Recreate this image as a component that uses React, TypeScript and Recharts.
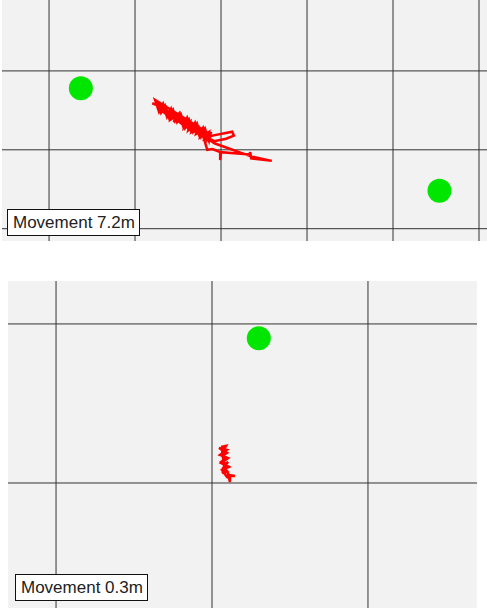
import { ScatterChart, Scatter, XAxis, YAxis, CartesianGrid, ReferenceLine } from "recharts";

// positions in metres, grid every 1m
const topTrack = [
  [1.2, 0.59], [1.27, 0.56], [1.24, 0.62], [1.31, 0.53], [1.29, 0.48], [1.36, 0.54],
  [1.38, 0.44], [1.34, 0.47], [1.43, 0.48], [1.41, 0.38], [1.48, 0.43], [1.45, 0.35],
  [1.52, 0.46], [1.55, 0.33], [1.5, 0.39], [1.59, 0.38], [1.57, 0.28], [1.64, 0.35],
  [1.62, 0.25], [1.69, 0.32], [1.66, 0.23], [1.73, 0.28], [1.71, 0.2], [1.79, 0.25],
  [1.76, 0.16], [1.85, 0.22], [1.81, 0.14], [1.9, 0.18], [2.13, 0.23], [2.15, 0.18],
  [2.06, 0.14], [1.92, 0.11], [1.83, 0.16], [1.78, 0.22], [1.84, 0.0], [1.9, 0.01],
  [1.99, -0.03], [1.99, -0.13], [2.0, -0.03], [2.33, -0.06], [2.34, -0.03], [2.35, -0.11],
  [2.59, -0.14], [2.34, -0.08], [1.93, 0.08], [1.84, 0.14], [1.58, 0.3], [1.41, 0.44],
  [1.33, 0.51], [1.47, 0.46], [1.64, 0.33], [1.76, 0.24], [1.87, 0.2],
  [1.233, 0.633], [1.279, 0.481], [1.326, 0.582], [1.372, 0.418], [1.419, 0.519],
  [1.465, 0.367], [1.512, 0.456], [1.558, 0.304], [1.605, 0.405], [1.651, 0.241],
  [1.698, 0.342], [1.744, 0.19], [1.791, 0.278], [1.837, 0.127], [1.884, 0.228],
  [1.86, 0.114], [1.814, 0.266], [1.767, 0.165], [1.721, 0.329], [1.674, 0.228],
  [1.628, 0.38], [1.581, 0.278], [1.535, 0.443], [1.488, 0.354], [1.442, 0.506],
  [1.395, 0.405], [1.349, 0.557], [1.302, 0.468], [1.256, 0.608],
].map(([x, y]) => ({ x, y }));

const topAnchors = [
  { x: 0.37, y: 0.78 },
  { x: 4.54, y: -0.52 },
];

const bottomTrack = [
  [0.058, 0.226], [0.09, 0.233], [0.071, 0.201], [0.096, 0.189], [0.064, 0.17],
  [0.083, 0.151], [0.058, 0.132], [0.077, 0.119], [0.103, 0.132], [0.071, 0.094],
  [0.096, 0.075], [0.064, 0.063], [0.09, 0.082], [0.109, 0.05], [0.147, 0.044],
  [0.115, 0.044], [0.115, 0.006], [0.103, 0.057], [0.077, 0.107], [0.071, 0.157],
  [0.064, 0.208], [0.045, 0.22], [0.096, 0.208], [0.051, 0.176], [0.103, 0.157],
  [0.058, 0.126], [0.109, 0.101], [0.064, 0.082], [0.096, 0.038], [0.122, 0.025],
].map(([x, y]) => ({ x, y }));

const bottomAnchors = [{ x: 0.3, y: 0.91 }];

const topXTicks = [0, 1, 2, 3, 4, 5];
const topYTicks = [-1, 0, 1];
const bottomXTicks = [-1, 0, 1];
const bottomYTicks = [0, 1];

const labelStyle: React.CSSProperties = {
  position: "absolute",
  width: 126,
  height: 25,
  border: "1px solid #111",
  background: "#fff",
  fontFamily: "Liberation Sans, Arial, sans-serif",
  fontSize: 17,
  lineHeight: "25px",
  color: "#222",
  paddingLeft: 5,
  boxSizing: "content-box",
  whiteSpace: "nowrap",
};

function Dot(props: any) {
  return <circle cx={props.cx} cy={props.cy} r={12} fill="#00e600" />;
}

function Panel({ track, anchors, xDomain, yDomain, xTicks, yTicks, width, height, margin }: any) {
  return (
    <ScatterChart width={width} height={height} margin={margin}>
      <CartesianGrid horizontal={false} vertical={false} fill="#f2f2f2" fillOpacity={1} />
      <XAxis type="number" dataKey="x" domain={xDomain} ticks={xTicks} allowDataOverflow hide />
      <YAxis type="number" dataKey="y" domain={yDomain} ticks={yTicks} allowDataOverflow hide />
      {xTicks.map((v: number) => (
        <ReferenceLine key={"x" + v} x={v} stroke="#333" strokeWidth={1} />
      ))}
      {yTicks.map((v: number) => (
        <ReferenceLine key={"y" + v} y={v} stroke="#333" strokeWidth={1} />
      ))}
      <Scatter
        data={track}
        line={{ stroke: "#ff0000", strokeWidth: 2.5 }}
        shape={() => <g />}
        isAnimationActive={false}
      />
      <Scatter data={anchors} shape={Dot} isAnimationActive={false} />
    </ScatterChart>
  );
}

export default function App() {
  return (
    <div style={{ position: "absolute", left: 0, top: 0, width: 487, height: 611, background: "#fff" }}>
      <div style={{ position: "absolute", left: 0, top: 0 }}>
        <Panel
          track={topTrack}
          anchors={topAnchors}
          xDomain={[-0.547, 5.093]}
          yDomain={[-1.156, 1.899]}
          xTicks={topXTicks}
          yTicks={topYTicks}
          width={487}
          height={242}
          margin={{ top: 0, right: 0, bottom: 1, left: 2 }}
        />
        <div style={{ ...labelStyle, left: 7, top: 209 }}>Movement 7.2m</div>
      </div>
      <div style={{ position: "absolute", left: 0, top: 281 }}>
        <Panel
          track={bottomTrack}
          anchors={bottomAnchors}
          xDomain={[-1.308, 1.699]}
          yDomain={[-0.786, 1.27]}
          xTicks={bottomXTicks}
          yTicks={bottomYTicks}
          width={487}
          height={330}
          margin={{ top: 0, right: 10, bottom: 3, left: 8 }}
        />
        <div style={{ ...labelStyle, left: 15, top: 293 }}>Movement 0.3m</div>
      </div>
    </div>
  );
}
